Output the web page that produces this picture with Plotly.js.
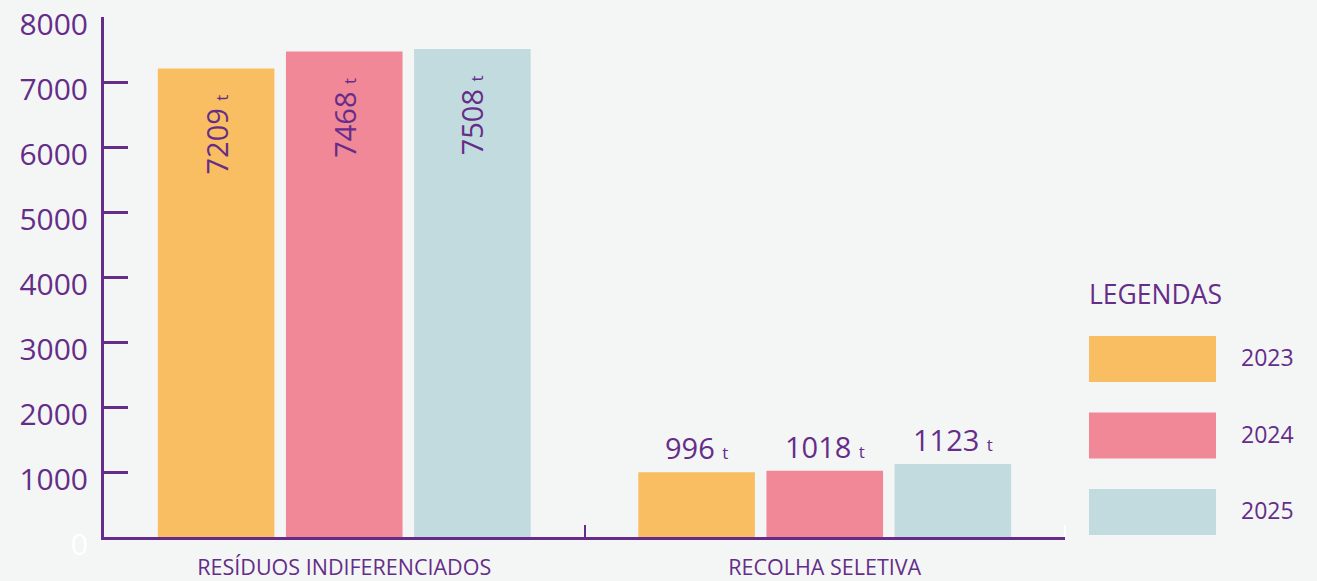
<!DOCTYPE html>
<html>
<head>
<meta charset="utf-8">
<script src="https://cdn.plot.ly/plotly-3.0.1.min.js"></script>
<style>
  html, body { margin: 0; padding: 0; background: #f4f6f5; }
  #chart { width: 1317px; height: 581px; }
</style>
</head>
<body>
<div id="chart"></div>
<script>
// Waste collected per year, in tonnes
const categories = ['RESÍDUOS INDIFERENCIADOS', 'RECOLHA SELETIVA'];
const years = ['2023', '2024', '2025'];
const values2023 = [7209, 996];
const values2024 = [7468, 1018];
const values2025 = [7508, 1123];
const unit = 't';
const legendTitle = 'LEGENDAS';
const yTickValues = [0, 1000, 2000, 3000, 4000, 5000, 6000, 7000, 8000];

const series = [values2023, values2024, values2025];
const colors = ['#f9bd62', '#f08898', '#c2dbdf'];
const purple = '#652d89';
const font = '"Open Sans", "Noto Sans", sans-serif';

const W = 1317, H = 581;
const margin = { l: 104, r: 252, t: 17, b: 44 };
const plotW = W - margin.l - margin.r;
const plotH = H - margin.t - margin.b;
const px2x = p => (p - margin.l) / plotW;
const px2y = p => (H - margin.b - p) / plotH;

const bargap = 0.2;
const bargroupgap = 0.09;
const slot = (1 - bargap) / series.length;

const traces = series.map((vals, i) => ({
  type: 'bar',
  name: years[i],
  x: categories,
  y: vals,
  marker: { color: colors[i], line: { width: 0 } },
  hoverinfo: 'skip',
  showlegend: false
}));

// Value labels: rotated inside tall bars, horizontal above short ones
const annotations = [];
series.forEach((vals, i) => {
  vals.forEach((v, j) => {
    const inside = v > 3000;
    annotations.push({
      x: j + (i - (series.length - 1) / 2) * slot,
      y: v,
      xref: 'x', yref: 'y',
      text: v + ' <span style="font-size:17px">' + unit + '</span>',
      showarrow: false,
      textangle: inside ? -90 : 0,
      xanchor: 'center',
      yanchor: inside ? 'top' : 'bottom',
      yshift: inside ? -24 : 3,
      font: { family: font, size: 29, color: purple }
    });
  });
});

// Legend block
annotations.push({
  x: px2x(1087), y: px2y(294), xref: 'paper', yref: 'paper',
  text: legendTitle, showarrow: false, xanchor: 'left', yanchor: 'middle',
  font: { family: font, size: 26.5, color: purple }
});
const shapes = [];
years.forEach((yr, i) => {
  const top = 336 + i * 76.5;
  shapes.push({
    type: 'rect', xref: 'paper', yref: 'paper',
    x0: px2x(1089), x1: px2x(1216), y0: px2y(top + 46), y1: px2y(top),
    fillcolor: colors[i], line: { width: 0 }
  });
  annotations.push({
    x: px2x(1239), y: px2y(top + 21), xref: 'paper', yref: 'paper',
    text: yr, showarrow: false, xanchor: 'left', yanchor: 'middle',
    font: { family: font, size: 23, color: purple }
  });
});
// hide the closing boundary tick
shapes.push({
  type: 'line', xref: 'paper', yref: 'paper', layer: 'above',
  x0: 1, x1: 1, y0: 0, y1: 12 / plotH,
  line: { color: '#ffffff', width: 2 }
});

const layout = {
  width: W, height: H,
  margin: margin,
  paper_bgcolor: '#f4f6f5',
  plot_bgcolor: '#f4f6f5',
  barmode: 'group',
  bargap: bargap,
  bargroupgap: bargroupgap,
  showlegend: false,
  font: { family: font, color: purple },
  xaxis: {
    type: 'category',
    tickson: 'boundaries',
    ticks: 'inside', ticklen: 12, tickwidth: 2, tickcolor: purple,
    showline: true, linecolor: purple, linewidth: 3,
    showgrid: false, zeroline: false,
    tickfont: { family: font, size: 21.5, color: purple },
    ticklabelstandoff: 9
  },
  yaxis: {
    range: [0, 8000],
    tickvals: yTickValues,
    ticktext: yTickValues.map(v => v === 0 ? '<span style="color:#ffffff">0</span>' : String(v)),
    ticks: 'inside', ticklen: 24, tickwidth: 3, tickcolor: purple,
    showline: true, linecolor: purple, linewidth: 3,
    showgrid: false, zeroline: false,
    tickfont: { family: font, size: 30, color: purple },
    ticklabelshift: 7,
    ticklabelstandoff: 7
  },
  shapes: shapes,
  annotations: annotations
};

Plotly.newPlot('chart', traces, layout, { staticPlot: true, displayModeBar: false });
</script>
</body>
</html>
